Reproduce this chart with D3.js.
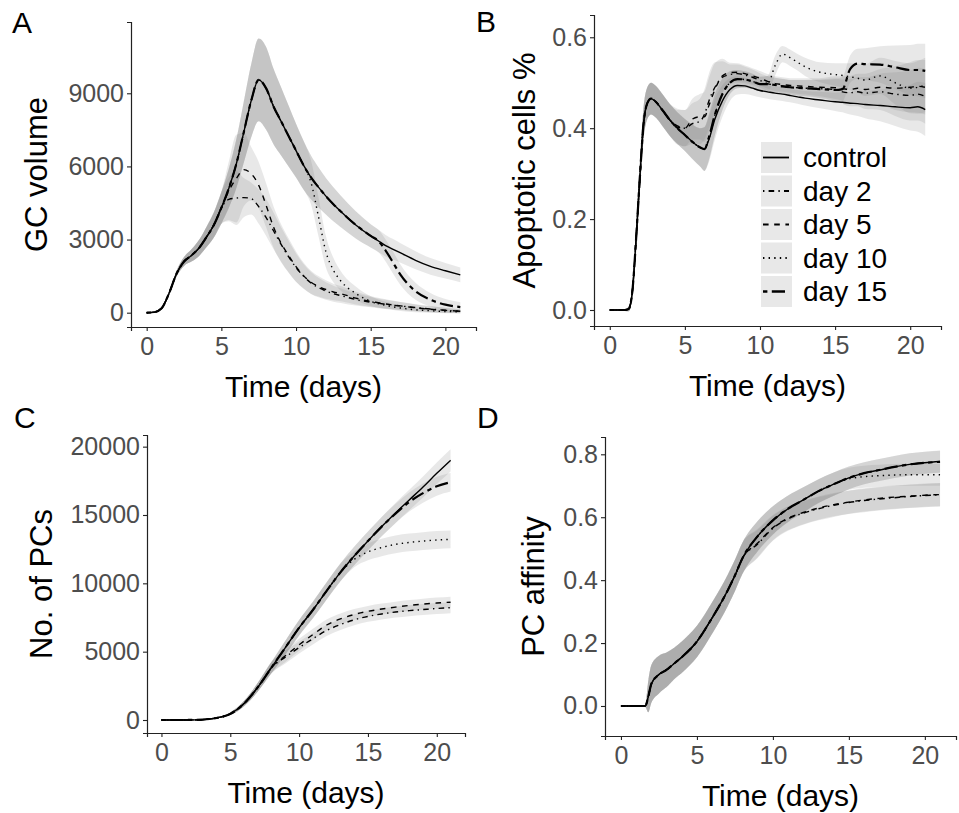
<!DOCTYPE html>
<html>
<head>
<meta charset="utf-8">
<script src="https://cdn.jsdelivr.net/npm/d3@7"></script>
<style>
  body { margin: 0; background: #fff; }
  text { font-family: "Liberation Sans", Arial, sans-serif; }
</style>
</head>
<body>
<div id="fig"></div>
<script>
// ---- data ----
const seriesNames = ["control", "day 2", "day 5", "day 10", "day 15"];
const timeTicks = [0, 5, 10, 15, 20];

// A: GC volume
const gcTime = [0,0.5,1,1.5,2,2.5,3,3.5,4,4.5,5,5.5,6,6.5,7,7.5,8,8.5,9,9.5,10,10.5,11,11.5,12,12.5,13,14,15,15.5,16,16.5,17,18,19,20,21];
const gcControl = [0,20,180,800,1600,2100,2350,2650,3100,3600,4300,5100,6100,7400,8700,9550,9200,8450,7850,7250,6650,6050,5550,5150,4780,4450,4150,3600,3150,2950,2750,2600,2450,2150,1900,1720,1550];
const gcDay2 = [0,20,180,800,1600,2100,2350,2650,3100,3600,4300,4650,4700,4720,4680,4350,3900,3350,2800,2300,1850,1500,1220,1030,890,780,700,540,430,385,345,305,275,210,150,100,60];
const gcDay5 = [0,20,180,800,1600,2100,2350,2650,3100,3600,4300,5000,5500,5870,5700,5230,4400,3500,2850,2350,1890,1520,1250,1080,950,850,780,600,460,410,360,320,280,200,140,95,60];
const gcDay10 = [0,20,180,800,1600,2100,2350,2650,3100,3600,4300,5100,6100,7400,8700,9550,9200,8450,7850,7250,6650,6050,5350,3950,2500,1750,1300,790,470,370,300,240,190,120,80,50,35];
const gcDay15 = [0,20,180,800,1600,2100,2350,2650,3100,3600,4300,5100,6100,7400,8700,9550,9200,8450,7850,7250,6650,6050,5550,5150,4780,4450,4150,3600,3150,2950,2550,2050,1550,880,530,330,230];
const gcControlSd = [10,20,40,80,120,180,250,330,420,520,650,800,1000,1250,1500,1700,1700,1550,1400,1250,1100,1000,900,820,750,700,650,560,480,460,440,420,400,370,340,320,300];
const gcDay2Sd = [10,20,40,80,120,180,250,330,420,520,650,900,1100,800,650,700,750,750,700,650,580,500,450,400,360,330,300,250,210,200,185,170,160,140,120,100,80];
const gcDay5Sd = [10,20,40,80,120,180,250,330,420,520,650,1200,1800,1500,1100,950,900,850,780,700,620,540,470,420,380,340,310,260,220,200,190,175,160,140,120,100,80];
const gcDay10Sd = [10,20,40,80,120,180,250,330,420,520,650,800,1000,1250,1500,1700,1700,1550,1400,1250,1100,1000,900,800,650,500,400,280,200,170,150,130,120,100,80,70,60];
const gcDay15Sd = [10,20,40,80,120,180,250,330,420,520,650,800,1000,1250,1500,1700,1700,1550,1400,1250,1100,1000,900,820,750,700,650,560,480,460,450,450,420,350,280,230,200];
const gcTicks = [0, 3000, 6000, 9000];

// B: apoptotic cells
const apoTime = [0,0.5,1,1.25,1.5,1.75,2,2.25,2.5,2.75,3,3.5,4,4.5,5,5.5,6,6.3,6.6,7,7.5,8,8.5,9,9.5,10,10.5,11,11.5,12,12.5,13,14,15,15.5,16,16.5,17,18,19,20,20.5,21];
const apoControl = [0,0,0,0.002,0.04,0.155,0.29,0.41,0.455,0.465,0.46,0.44,0.418,0.4,0.385,0.37,0.358,0.354,0.375,0.42,0.46,0.485,0.494,0.493,0.488,0.483,0.48,0.477,0.475,0.472,0.469,0.466,0.462,0.458,0.457,0.455,0.454,0.452,0.45,0.447,0.445,0.447,0.441];
const apoDay2 = [0,0,0,0.002,0.04,0.155,0.29,0.41,0.455,0.465,0.46,0.44,0.418,0.405,0.4,0.41,0.415,0.43,0.46,0.49,0.512,0.518,0.52,0.517,0.512,0.505,0.498,0.495,0.493,0.49,0.489,0.488,0.487,0.485,0.48,0.478,0.48,0.477,0.48,0.475,0.472,0.475,0.47];
const apoDay5 = [0,0,0,0.002,0.04,0.155,0.29,0.41,0.455,0.465,0.46,0.44,0.418,0.402,0.4,0.42,0.425,0.425,0.45,0.485,0.515,0.522,0.523,0.52,0.515,0.51,0.503,0.498,0.496,0.494,0.493,0.492,0.49,0.489,0.487,0.485,0.488,0.485,0.49,0.488,0.49,0.492,0.49];
const apoDay10 = [0,0,0,0.002,0.04,0.155,0.29,0.41,0.455,0.465,0.46,0.44,0.418,0.4,0.385,0.37,0.358,0.354,0.38,0.43,0.475,0.5,0.508,0.507,0.503,0.497,0.497,0.537,0.563,0.555,0.545,0.535,0.523,0.518,0.516,0.513,0.51,0.506,0.515,0.5,0.488,0.49,0.495];
const apoDay15 = [0,0,0,0.002,0.04,0.155,0.29,0.41,0.455,0.465,0.46,0.44,0.418,0.4,0.385,0.37,0.358,0.354,0.38,0.43,0.475,0.5,0.508,0.507,0.503,0.497,0.497,0.495,0.492,0.49,0.489,0.488,0.486,0.484,0.486,0.53,0.542,0.541,0.54,0.534,0.528,0.528,0.526];
const apoControlSd = [0.002,0.002,0.002,0.005,0.015,0.03,0.035,0.035,0.035,0.035,0.035,0.035,0.035,0.035,0.035,0.038,0.042,0.048,0.05,0.045,0.035,0.025,0.02,0.018,0.016,0.015,0.015,0.015,0.015,0.015,0.015,0.016,0.018,0.02,0.022,0.025,0.027,0.03,0.035,0.042,0.05,0.055,0.058];
const apoDay2Sd = [0.002,0.002,0.002,0.005,0.015,0.03,0.035,0.035,0.035,0.035,0.035,0.035,0.035,0.038,0.04,0.045,0.05,0.055,0.06,0.055,0.035,0.022,0.02,0.018,0.017,0.016,0.016,0.016,0.016,0.016,0.017,0.018,0.02,0.025,0.027,0.03,0.032,0.035,0.04,0.048,0.055,0.058,0.06];
const apoDay5Sd = [0.002,0.002,0.002,0.005,0.015,0.03,0.035,0.035,0.035,0.035,0.035,0.035,0.035,0.038,0.04,0.045,0.05,0.055,0.06,0.058,0.038,0.022,0.02,0.018,0.017,0.016,0.016,0.016,0.016,0.016,0.017,0.018,0.02,0.025,0.027,0.03,0.032,0.035,0.04,0.048,0.055,0.058,0.06];
const apoDay10Sd = [0.002,0.002,0.002,0.005,0.015,0.03,0.035,0.035,0.035,0.035,0.035,0.035,0.035,0.035,0.035,0.038,0.042,0.048,0.05,0.045,0.035,0.025,0.02,0.018,0.017,0.016,0.018,0.022,0.018,0.018,0.018,0.02,0.022,0.025,0.027,0.03,0.032,0.035,0.04,0.048,0.055,0.058,0.06];
const apoDay15Sd = [0.002,0.002,0.002,0.005,0.015,0.03,0.035,0.035,0.035,0.035,0.035,0.035,0.035,0.035,0.035,0.038,0.042,0.048,0.05,0.045,0.035,0.025,0.02,0.018,0.017,0.016,0.018,0.016,0.016,0.016,0.017,0.018,0.02,0.024,0.027,0.03,0.033,0.035,0.04,0.048,0.055,0.058,0.06];
const apoTicks = [0, 0.2, 0.4, 0.6];

// C: number of PCs
const pcTime = [0,1,2,3,4,5,6,7,8,9,10,11,12,13,14,15,16,17,18,19,20,21];
const pcControl = [0,0,5,30,150,450,1200,2400,3850,5300,6750,8050,9450,10800,12000,13100,14150,15150,16100,17050,18050,19000];
const pcDay2 = [0,0,5,30,150,450,1200,2400,3850,4600,5300,5950,6550,6980,7330,7580,7760,7900,8000,8080,8160,8220];
const pcDay5 = [0,0,5,30,150,450,1200,2400,3850,4700,5500,6250,6950,7400,7720,7950,8120,8260,8380,8480,8560,8620];
const pcDay10 = [0,0,5,30,150,450,1200,2400,3850,5300,6750,8050,9450,10800,11750,12300,12620,12850,12990,13090,13170,13220];
const pcDay15 = [0,0,5,30,150,450,1200,2400,3850,5300,6750,8050,9450,10800,12000,13100,14150,15100,15950,16600,17100,17400];
const pcControlSd = [0,0,2,10,40,100,200,320,420,500,560,600,630,650,670,690,710,730,750,770,790,810];
const pcDay2Sd = [0,0,2,10,40,100,200,320,420,460,440,420,410,400,400,400,400,400,400,400,400,400];
const pcDay5Sd = [0,0,2,10,40,100,200,320,420,460,440,420,410,400,400,400,400,400,400,400,400,400];
const pcDay10Sd = [0,0,2,10,40,100,200,320,420,500,560,600,630,650,580,620,640,650,650,650,650,650];
const pcDay15Sd = [0,0,2,10,40,100,200,320,420,500,560,600,630,650,670,690,710,700,700,700,690,680];
const pcTicks = [0, 5000, 10000, 15000, 20000];

// D: PC affinity
const affTime = [0,1,1.6,1.8,2,2.5,3,3.5,4,5,6,7,7.5,8,9,10,11,12,13,14,15,16,17,18,19,20,21];
const affControl = [0,0,0,0.03,0.07,0.1,0.115,0.135,0.155,0.205,0.28,0.365,0.415,0.47,0.54,0.59,0.627,0.655,0.683,0.705,0.725,0.74,0.75,0.76,0.768,0.773,0.777];
const affDay2 = [0,0,0,0.03,0.07,0.1,0.115,0.135,0.155,0.205,0.28,0.365,0.415,0.47,0.515,0.565,0.595,0.613,0.627,0.638,0.647,0.653,0.658,0.662,0.666,0.669,0.671];
const affDay5 = [0,0,0,0.03,0.07,0.1,0.115,0.135,0.155,0.205,0.28,0.365,0.415,0.47,0.518,0.567,0.597,0.615,0.629,0.64,0.648,0.655,0.66,0.664,0.667,0.67,0.672];
const affDay10 = [0,0,0,0.03,0.07,0.1,0.115,0.135,0.155,0.205,0.28,0.365,0.415,0.47,0.54,0.59,0.627,0.655,0.683,0.705,0.722,0.729,0.732,0.734,0.735,0.735,0.735];
const affDay15 = [0,0,0,0.03,0.07,0.1,0.115,0.135,0.155,0.205,0.28,0.365,0.415,0.47,0.54,0.59,0.627,0.655,0.683,0.705,0.725,0.74,0.75,0.76,0.768,0.773,0.776];
const affControlSd = [0.003,0.003,0.003,0.05,0.06,0.06,0.055,0.05,0.05,0.05,0.05,0.05,0.05,0.05,0.048,0.045,0.042,0.04,0.038,0.037,0.036,0.035,0.035,0.035,0.035,0.035,0.035];
const affDay2Sd = [0.003,0.003,0.003,0.05,0.06,0.06,0.055,0.05,0.05,0.05,0.05,0.05,0.05,0.05,0.045,0.04,0.038,0.037,0.037,0.037,0.037,0.037,0.037,0.037,0.037,0.037,0.037];
const affDay5Sd = [0.003,0.003,0.003,0.05,0.06,0.06,0.055,0.05,0.05,0.05,0.05,0.05,0.05,0.05,0.045,0.04,0.038,0.037,0.037,0.037,0.037,0.037,0.037,0.037,0.037,0.037,0.037];
const affDay10Sd = [0.003,0.003,0.003,0.05,0.06,0.06,0.055,0.05,0.05,0.05,0.05,0.05,0.05,0.05,0.048,0.045,0.042,0.04,0.038,0.037,0.035,0.035,0.035,0.035,0.035,0.035,0.035];
const affDay15Sd = [0.003,0.003,0.003,0.05,0.06,0.06,0.055,0.05,0.05,0.05,0.05,0.05,0.05,0.05,0.048,0.045,0.042,0.04,0.038,0.037,0.036,0.035,0.035,0.035,0.035,0.035,0.035];
const affTicks = [0, 0.2, 0.4, 0.6, 0.8];

// ---- styles ----
const lineStyle = {
  "control": { dash: null, width: 1.4 },
  "day 2": { dash: "1.4 4.2 5.6 4.2", width: 1.4 },
  "day 5": { dash: "5.6 5.6", width: 1.4 },
  "day 10": { dash: "1.4 4.2", width: 1.4 },
  "day 15": { dash: "4.4 4.4 13.2 4.4", width: 2.2 }
};
const ribbonFill = "#7f7f7f", ribbonOpacity = 0.18;

const panels = [
  { letter: "A", time: gcTime, means: [gcControl, gcDay2, gcDay5, gcDay10, gcDay15],
    sds: [gcControlSd, gcDay2Sd, gcDay5Sd, gcDay10Sd, gcDay15Sd],
    yDomain: [-587, 11924], yTicks: gcTicks, fmt: d3.format("d"), ylab: "GC volume",
    left: 131, right: 476, top: 22, bottom: 327, titleX: 47, lx: 12, ly: 33 },
  { letter: "B", time: apoTime, means: [apoControl, apoDay2, apoDay5, apoDay10, apoDay15],
    sds: [apoControlSd, apoDay2Sd, apoDay5Sd, apoDay10Sd, apoDay15Sd],
    yDomain: [-0.0352, 0.649], yTicks: apoTicks, fmt: d3.format(".1f"), ylab: "Apoptotic cells %",
    left: 594, right: 941, top: 15, bottom: 326, titleX: 535, lx: 476, ly: 32, legend: true },
  { letter: "C", time: pcTime, means: [pcControl, pcDay2, pcDay5, pcDay10, pcDay15],
    sds: [pcControlSd, pcDay2Sd, pcDay5Sd, pcDay10Sd, pcDay15Sd],
    yDomain: [-951, 20853], yTicks: pcTicks, fmt: d3.format("d"), ylab: "No. of PCs",
    left: 147, right: 465, top: 435, bottom: 733, titleX: 52, lx: 14, ly: 428 },
  { letter: "D", time: affTime, means: [affControl, affDay2, affDay5, affDay10, affDay15],
    sds: [affControlSd, affDay2Sd, affDay5Sd, affDay10Sd, affDay15Sd],
    yDomain: [-0.0954, 0.855], yTicks: affTicks, fmt: d3.format(".1f"), ylab: "PC affinity",
    left: 605, right: 956, top: 437, bottom: 736, titleX: 544, lx: 477, ly: 428 }
];

const svg = d3.select("#fig").append("svg")
  .attr("width", 959)
  .attr("height", 813);

panels.forEach(drawPanel);

function drawPanel(p) {
  const x = d3.scaleLinear().domain([-1.05, 22.05]).range([p.left, p.right]);
  const y = d3.scaleLinear().domain(p.yDomain).range([p.bottom, p.top]);
  const g = svg.append("g");

  // ribbons first, then the lines on top
  p.means.forEach((m, i) => {
    const pts = p.time.map((t, k) => ({ t: t, v: m[k], s: p.sds[i][k] }));
    const area = d3.area()
      .x(d => x(d.t))
      .y0(d => y(d.v - d.s))
      .y1(d => y(d.v + d.s))
      .curve(d3.curveMonotoneX);
    g.append("path")
      .datum(pts)
      .attr("d", area)
      .attr("fill", ribbonFill)
      .attr("fill-opacity", ribbonOpacity);
  });

  p.means.forEach((m, i) => {
    const st = lineStyle[seriesNames[i]];
    const pts = p.time.map((t, k) => ({ t: t, v: m[k] }));
    const line = d3.line()
      .x(d => x(d.t))
      .y(d => y(d.v))
      .curve(d3.curveMonotoneX);
    g.append("path")
      .datum(pts)
      .attr("d", line)
      .attr("fill", "none")
      .attr("stroke", "#000")
      .attr("stroke-width", st.width)
      .attr("stroke-dasharray", st.dash);
  });

  // axes
  const xAxis = g.append("g")
    .attr("transform", `translate(0,${p.bottom})`)
    .call(d3.axisBottom(x).tickValues(timeTicks).tickSizeOuter(0).tickSize(4).tickPadding(6));
  const yAxis = g.append("g")
    .attr("transform", `translate(${p.left},0)`)
    .call(d3.axisLeft(y).tickValues(p.yTicks).tickFormat(p.fmt).tickSizeOuter(0).tickSize(4).tickPadding(3));
  [xAxis, yAxis].forEach(a => {
    a.select(".domain").attr("stroke", "#222").attr("stroke-width", 1.2);
    a.selectAll(".tick line").attr("stroke", "#222").attr("stroke-width", 1.1);
    a.selectAll(".tick text")
      .attr("fill", "#4d4d4d")
      .style("font-size", "25px")
      .style("font-family", "'Liberation Sans', Arial, sans-serif");
  });

  // titles
  g.append("text")
    .attr("x", (p.left + p.right) / 2)
    .attr("y", p.bottom + 70)
    .attr("text-anchor", "middle")
    .style("font-size", "30px")
    .text("Time (days)");
  g.append("text")
    .attr("transform", `translate(${p.titleX},${(p.top + p.bottom) / 2}) rotate(-90)`)
    .attr("text-anchor", "middle")
    .style("font-size", "31px")
    .text(p.ylab);
  g.append("text")
    .attr("x", p.lx)
    .attr("y", p.ly)
    .style("font-size", "30px")
    .text(p.letter);

  if (p.legend) drawLegend(g);
}

function drawLegend(g) {
  const lg = g.append("g").attr("transform", "translate(761,142)");
  seriesNames.forEach((name, i) => {
    const st = lineStyle[name];
    const row = lg.append("g").attr("transform", `translate(0,${i * 33.5})`);
    row.append("rect")
      .attr("width", 31)
      .attr("height", 31)
      .attr("fill", ribbonFill)
      .attr("fill-opacity", ribbonOpacity);
    row.append("line")
      .attr("x1", 2).attr("x2", 28)
      .attr("y1", 15.5).attr("y2", 15.5)
      .attr("stroke", "#000")
      .attr("stroke-width", st.width + 0.4)
      .attr("stroke-dasharray", st.dash);
    row.append("text")
      .attr("x", 42)
      .attr("y", 15.5)
      .attr("dy", "0.35em")
      .style("font-size", "28px")
      .text(name);
  });
}
</script>
</body>
</html>
